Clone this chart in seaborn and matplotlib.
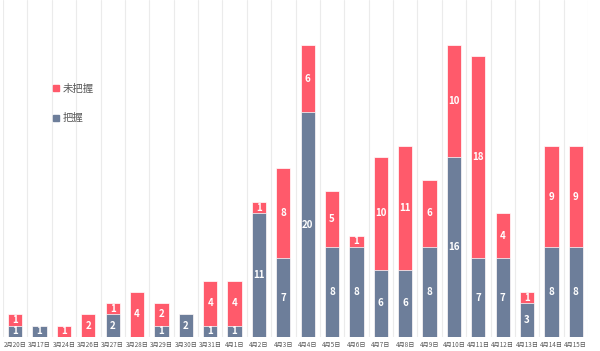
import pandas as pd
import matplotlib.pyplot as plt
import seaborn as sns
from matplotlib.patches import Patch

dates = ['2月20日', '3月17日', '3月24日', '3月26日', '3月27日', '3月28日', '3月29日', '3月30日',
         '3月31日', '4月1日', '4月2日', '4月3日', '4月4日', '4月5日', '4月6日', '4月7日',
         '4月8日', '4月9日', '4月10日', '4月11日', '4月12日', '4月13日', '4月14日', '4月15日']
grasped = [1, 1, 0, 0, 2, 0, 1, 2, 1, 1, 11, 7, 20, 8, 8, 6, 6, 8, 16, 7, 7, 3, 8, 8]
not_grasped = [1, 0, 1, 2, 1, 4, 2, 0, 4, 4, 1, 8, 6, 5, 1, 10, 11, 6, 10, 18, 4, 1, 9, 9]

df = pd.DataFrame({'date': dates, '把握': grasped, '未把握': not_grasped})
df['total'] = df['把握'] + df['未把握']

sns.set_style('white')
plt.rcParams['font.family'] = ['Noto Sans CJK SC', 'DejaVu Sans']

red = '#FF5A6B'
blue = '#6D7E9A'

fig = plt.figure(figsize=(6, 3.51), dpi=100)
ax = fig.add_axes([0.005, 0.04, 0.975, 0.96])

# stacked: total in red, grasped in blue over it
sns.barplot(data=df, x='date', y='total', color=red, width=0.58, saturation=1,
            edgecolor='white', linewidth=0.5, ax=ax)
sns.barplot(data=df, x='date', y='把握', color=blue, width=0.58, saturation=1,
            edgecolor='white', linewidth=0.5, ax=ax)

# value labels
for i, row in df.iterrows():
    g, n = row['把握'], row['未把握']
    if g > 0:
        ax.text(i, g / 2, str(g), ha='center', va='center', color='white',
                fontsize=7, fontweight='bold')
    if n > 0:
        ax.text(i, g + n / 2, str(n), ha='center', va='center', color='white',
                fontsize=7, fontweight='bold')

ax.set_ylim(0, 30)
ax.set_xlim(-0.5, len(dates) - 0.5)
for b in range(len(dates) + 1):
    ax.axvline(b - 0.5, color='#EBEBEB', linewidth=0.8, zorder=0)

ax.set_yticks([])
ax.set_xlabel('')
ax.set_ylabel('')
ax.tick_params(axis='x', length=0, labelsize=4.5, labelcolor='#595959', pad=3)
for s in ['top', 'left', 'right', 'bottom']:
    ax.spines[s].set_visible(False)

handles = [Patch(color=red, label='未把握'), Patch(color=blue, label='把握')]
leg = ax.legend(handles=handles, loc='upper left', bbox_to_anchor=(0.07, 0.78),
                frameon=False, fontsize=7.5, labelspacing=1.9, handlelength=0.5,
                handleheight=0.5, handletextpad=0.4)
for t in leg.get_texts():
    t.set_color('#595959')

fig.savefig('out.png', dpi=100)
